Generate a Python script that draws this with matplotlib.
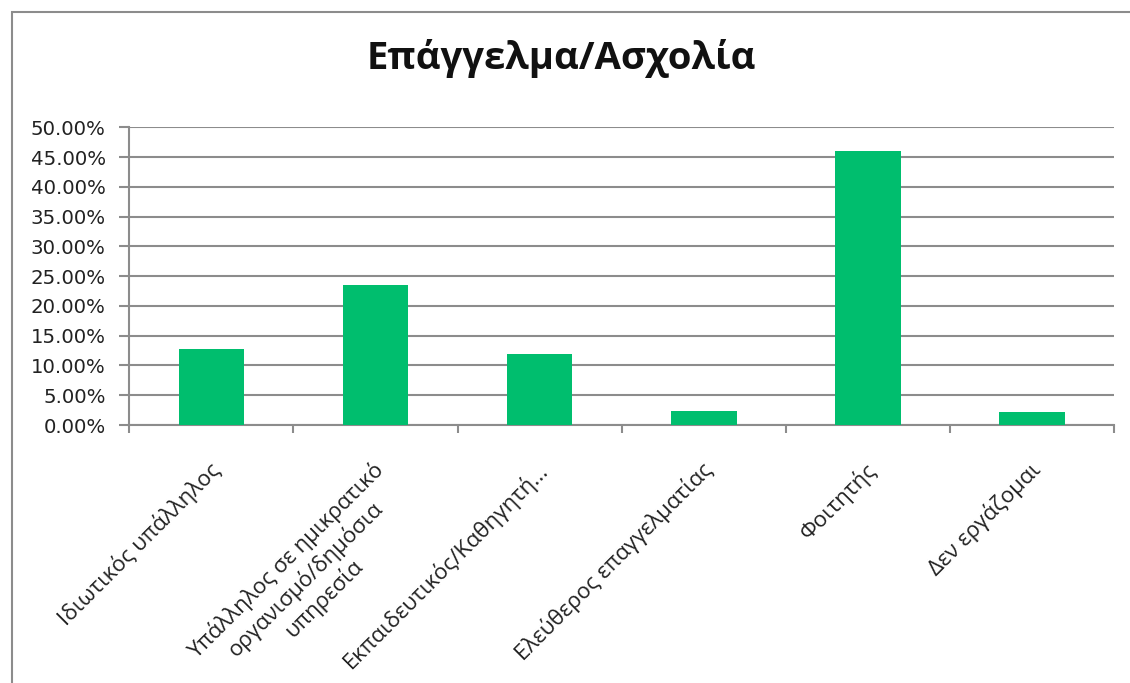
import numpy as np
import matplotlib
matplotlib.use("Agg")
import matplotlib.pyplot as plt
from matplotlib.patches import Rectangle
from matplotlib.ticker import FixedLocator, FuncFormatter
from matplotlib.transforms import ScaledTranslation

# data
categories = [
    "Ιδιωτικός υπάλληλος",
    "Υπάλληλος σε ημικρατικό\nοργανισμό/δημόσια\nυπηρεσία",
    "Εκπαιδευτικός/Καθηγητή...",
    "Ελεύθερος επαγγελματίας",
    "Φοιτητής",
    "Δεν εργάζομαι",
]
shares = [0.128, 0.235, 0.119, 0.024, 0.460, 0.021]
y_ticks = [0.00, 0.05, 0.10, 0.15, 0.20, 0.25, 0.30, 0.35, 0.40, 0.45, 0.50]

title = "Επάγγελμα/Ασχολία"
bar_color = "#00BE6E"
grid_color = "#8C8C8C"

fig = plt.figure(figsize=(11.3, 6.83), dpi=100)
ax = fig.add_axes([129.3 / 1130, 1 - 425 / 683, (1114 - 129.3) / 1130, (425 - 127.3) / 683])

# outer chart frame, runs off the right and bottom edges
fig.patches.append(Rectangle((12 / 1130, -0.1), 1.2, 1.1 - 12 / 683,
                             transform=fig.transFigure, fill=False,
                             edgecolor=grid_color, linewidth=1.5))

x = np.arange(len(categories))
ax.bar(x, shares, width=0.4, color=bar_color, zorder=3)

ax.set_xlim(-0.5, len(categories) - 0.5)
ax.set_ylim(0, 0.5)
ax.set_yticks(y_ticks)
ax.yaxis.set_major_formatter(FuncFormatter(lambda v, _: f"{v * 100:.2f}%"))
ax.grid(axis="y", color=grid_color, linewidth=1.5, zorder=0)
ax.set_axisbelow(True)

for side in ["top", "right"]:
    ax.spines[side].set_visible(False)
for side in ["left", "bottom"]:
    ax.spines[side].set_color(grid_color)
    ax.spines[side].set_linewidth(1.5)

ax.tick_params(axis="y", length=7, width=1.5, color=grid_color, pad=10,
               labelsize=14.2, labelcolor="#222222")

# tick marks between categories, labels at the centres
ax.xaxis.set_minor_locator(FixedLocator(np.arange(len(categories) + 1) - 0.5))
ax.tick_params(axis="x", which="minor", length=6, width=1.5, color=grid_color)
ax.set_xticks(x)
ax.set_xticklabels(categories, rotation=45, ha="right", va="top",
                   rotation_mode="anchor", multialignment="center",
                   family="Open Sans", fontsize=16, color="#222222",
                   linespacing=1.2)
ax.tick_params(axis="x", which="major", length=0, pad=24)
shift = ScaledTranslation(-3 / 100, 0, fig.dpi_scale_trans)
for lbl in ax.get_xticklabels():
    lbl.set_transform(lbl.get_transform() + shift)

fig.text(0.497, 1 - 58 / 683, title, ha="center", va="center",
         family="Open Sans", fontweight="bold", fontsize=27.5, color="#111111")

fig.savefig("out.png", dpi=100, facecolor="white")
